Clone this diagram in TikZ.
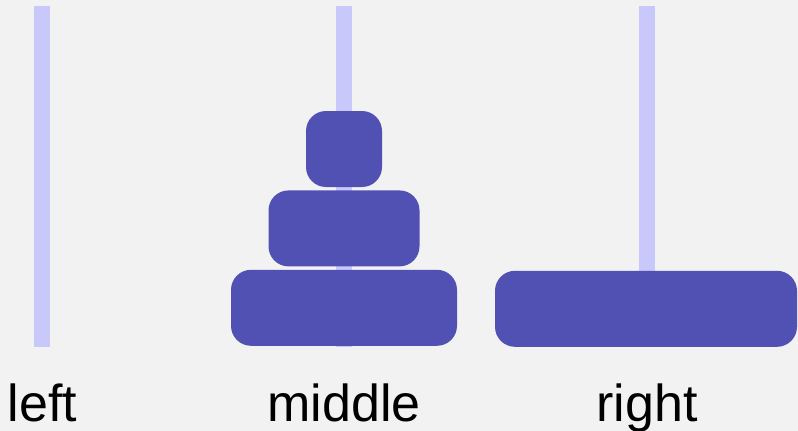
\documentclass[tikz,border=0pt]{standalone}
\usepackage{fontspec}
\setmainfont{Liberation Sans}
\usetikzlibrary{positioning}
\definecolor{pegColor}{RGB}{200, 200, 250}
\definecolor{diskColor}{RGB}{80, 81, 178}
\definecolor{bgColor}{RGB}{242, 242, 242}

\begin{document}
\begin{tikzpicture}[
    x=1pt, y=-1pt,
    every node/.style={font=\fontsize{52}{60}\selectfont},
    peg/.style={fill=pegColor, inner sep=0pt, minimum width=16pt, minimum height=341pt, anchor=north},
    disk/.style={fill=diskColor, rounded corners=20pt, inner sep=0pt, minimum height=76pt, anchor=south},
    peg label/.style={anchor=base, inner sep=0pt}
]
    \fill[bgColor] (0,0) rectangle (798,431);
    \useasboundingbox (0,0) rectangle (798,431);

    \node[peg] (peg_left)   at (42,6)  {};
    \node[peg] (peg_middle) at (344,6) {};
    \node[peg] (peg_right)  at (647,6) {};

    \node[disk, minimum width=226pt] (disk_large) at (344,346) {};
    \node[disk, minimum width=151pt, above=3pt of disk_large] (disk_medium) {};
    \node[disk, minimum width=76pt, above=3pt of disk_medium] (disk_small) {};

    \node[disk, minimum width=302pt] (disk_right) at (646,347) {};

    \node[peg label] (lbl_left)   at (42.5,421) {left};
    \node[peg label] (lbl_middle) at (344,421)  {middle};
    \node[peg label] (lbl_right)  at (647,421)  {right};
\end{tikzpicture}
\end{document}
